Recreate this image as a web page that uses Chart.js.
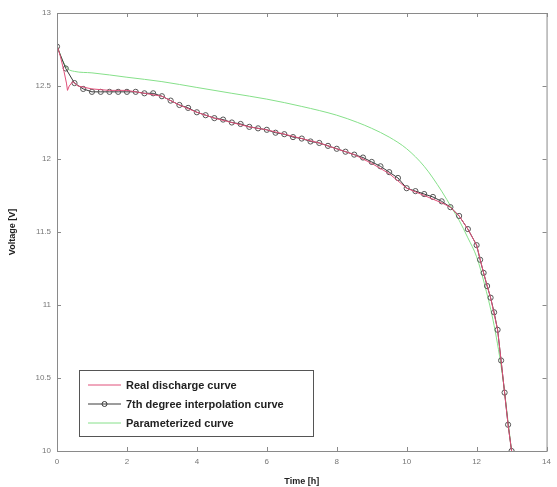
<!DOCTYPE html>
<html>
<head>
<meta charset="utf-8">
<script src="https://cdn.jsdelivr.net/npm/chart.js@4/dist/chart.umd.min.js"></script>
<style>
  html, body { margin: 0; padding: 0; background: #fff; }
  #wrap { width: 557px; height: 487px; }
</style>
</head>
<body>
<div id="wrap"><canvas id="dischargeChart" width="557" height="487"></canvas></div>
<script>
"use strict";

// Реальна крива розряду
const realTime = [0, 0.1, 0.2, 0.27, 0.3, 0.35, 0.45, 0.6, 0.8, 1, 1.5, 2, 2.5, 3, 3.5, 4, 4.5, 5, 5.5, 6,
    6.5, 7, 7.5, 8, 8.5, 9, 9.5, 10, 10.5, 11, 11.25, 11.5, 11.75, 12, 12.2, 12.4, 12.6, 12.7, 12.8, 12.9, 13.0];
const realVolt = [12.78, 12.7, 12.6, 12.52, 12.47, 12.5, 12.53, 12.5, 12.49, 12.48, 12.47, 12.47, 12.45, 12.43, 12.37, 12.32, 12.28, 12.25, 12.22, 12.2,
    12.17, 12.14, 12.11, 12.07, 12.03, 11.97, 11.9, 11.8, 11.75, 11.7, 11.67, 11.61, 11.52, 11.41, 11.22, 11.05, 10.83, 10.62, 10.4, 10.18, 10.0];

// Інтерполяція 7-го ступеня (з маркерами)
const interpTime = [0, 0.25, 0.5, 0.75, 1, 1.25, 1.5, 1.75, 2, 2.25, 2.5, 2.75, 3, 3.25, 3.5, 3.75, 4, 4.25, 4.5, 4.75,
    5, 5.25, 5.5, 5.75, 6, 6.25, 6.5, 6.75, 7, 7.25, 7.5, 7.75, 8, 8.25, 8.5, 8.75, 9, 9.25, 9.5, 9.75,
    10, 10.25, 10.5, 10.75, 11, 11.25, 11.5, 11.75, 12, 12.1, 12.2, 12.3, 12.4, 12.5, 12.6, 12.7, 12.8, 12.9, 13.0];
const interpVolt = [12.77, 12.62, 12.52, 12.48, 12.46, 12.46, 12.46, 12.46, 12.46, 12.46, 12.45, 12.45, 12.43, 12.4, 12.37, 12.35, 12.32, 12.3, 12.28, 12.27,
    12.25, 12.24, 12.22, 12.21, 12.2, 12.18, 12.17, 12.15, 12.14, 12.12, 12.11, 12.09, 12.07, 12.05, 12.03, 12.01, 11.98, 11.95, 11.91, 11.87,
    11.8, 11.78, 11.76, 11.74, 11.71, 11.67, 11.61, 11.52, 11.41, 11.31, 11.22, 11.13, 11.05, 10.95, 10.83, 10.62, 10.4, 10.18, 10.0];

// Параметризована крива
const paramTime = [0, 0.15, 0.3, 0.5, 1, 2, 3, 4, 5, 6, 7, 8, 8.6, 9, 9.5, 10, 10.5, 11, 11.3, 11.5, 11.75, 12, 12.25, 12.5, 12.75, 12.9, 13.0];
const paramVolt = [12.78, 12.68, 12.62, 12.6, 12.59, 12.56, 12.53, 12.49, 12.45, 12.41, 12.36, 12.3, 12.25, 12.21, 12.15, 12.07, 11.95, 11.78, 11.66, 11.58, 11.46, 11.33, 11.12, 10.86, 10.5, 10.2, 10.0];

const xTicks = [0, 2, 4, 6, 8, 10, 12, 14];
const yTicks = [10, 10.5, 11, 11.5, 12, 12.5, 13];

const legendLabels = ['Real discharge curve', '7th degree interpolation curve', 'Parameterized curve'];

function toPoints(xs, ys) {
    return xs.map((x, i) => ({ x: x, y: ys[i] }));
}

// Рамка та внутрішні риски як у MATLAB
const framePlugin = {
    id: 'frame',
    afterDraw(chart) {
        const { ctx, chartArea: a, scales } = chart;
        ctx.save();
        ctx.strokeStyle = '#8a8a8a';
        ctx.lineWidth = 1;
        ctx.strokeRect(a.left + 0.5, a.top + 0.5, a.right - a.left, a.bottom - a.top);
        ctx.beginPath();
        xTicks.forEach(v => {
            const px = Math.round(scales.x.getPixelForValue(v)) + 0.5;
            ctx.moveTo(px, a.bottom); ctx.lineTo(px, a.bottom - 4);
            ctx.moveTo(px, a.top); ctx.lineTo(px, a.top + 4);
        });
        yTicks.forEach(v => {
            const py = Math.round(scales.y.getPixelForValue(v)) + 0.5;
            ctx.moveTo(a.left, py); ctx.lineTo(a.left + 4, py);
            ctx.moveTo(a.right, py); ctx.lineTo(a.right - 4, py);
        });
        ctx.stroke();
        ctx.restore();
    }
};

// Легенда всередині області графіка
const innerLegendPlugin = {
    id: 'innerLegend',
    afterDraw(chart) {
        const { ctx, chartArea: a } = chart;
        const x0 = a.left + 22, y0 = a.bottom - 81, w = 234, h = 66;
        ctx.save();
        ctx.fillStyle = '#fff';
        ctx.fillRect(x0, y0, w, h);
        ctx.strokeStyle = '#555';
        ctx.lineWidth = 1;
        ctx.strokeRect(x0 + 0.5, y0 + 0.5, w, h);
        ctx.font = 'bold 11px "Liberation Sans", Arial, sans-serif';
        ctx.textBaseline = 'middle';
        chart.data.datasets.forEach((ds, i) => {
            const yy = y0 + 15 + i * 19;
            ctx.strokeStyle = ds.borderColor;
            ctx.lineWidth = 1;
            ctx.beginPath();
            ctx.moveTo(x0 + 9, yy);
            ctx.lineTo(x0 + 42, yy);
            ctx.stroke();
            if (ds.pointRadius > 0) {
                ctx.beginPath();
                ctx.arc(x0 + 25.5, yy, 2.5, 0, Math.PI * 2);
                ctx.stroke();
            }
            ctx.fillStyle = '#222';
            ctx.fillText(legendLabels[i], x0 + 47, yy + 1);
        });
        ctx.restore();
    }
};

new Chart(document.getElementById('dischargeChart'), {
    type: 'scatter',
    data: {
        datasets: [
            {
                label: legendLabels[0],
                data: toPoints(realTime, realVolt),
                showLine: true,
                borderColor: '#e0507a',
                borderWidth: 1,
                pointRadius: 0,
                tension: 0
            },
            {
                label: legendLabels[1],
                data: toPoints(interpTime, interpVolt),
                showLine: true,
                borderColor: '#3a3a3a',
                borderWidth: 1,
                pointRadius: 2.6,
                pointBorderWidth: 1,
                pointBackgroundColor: 'rgba(255,255,255,0)',
                pointBorderColor: '#555',
                tension: 0
            },
            {
                label: legendLabels[2],
                data: toPoints(paramTime, paramVolt),
                showLine: true,
                borderColor: '#86e08a',
                borderWidth: 1,
                pointRadius: 0,
                cubicInterpolationMode: 'monotone'
            }
        ]
    },
    options: {
        responsive: false,
        animation: false,
        layout: { padding: { top: 13, right: 8, left: 0, bottom: 0 } },
        scales: {
            x: {
                type: 'linear',
                min: 0,
                max: 14,
                afterBuildTicks(scale) { scale.ticks = xTicks.map(v => ({ value: v })); },
                afterFit(scale) { scale.height = 36; },
                grid: { display: false, drawTicks: false },
                border: { display: false },
                ticks: { color: '#777', font: { size: 8 }, padding: 6, maxRotation: 0 },
                title: {
                    display: true,
                    text: 'Time [h]',
                    color: '#222',
                    font: { size: 9, weight: 'bold' },
                    padding: { top: 0, bottom: 0 }
                }
            },
            y: {
                min: 10,
                max: 13,
                afterBuildTicks(scale) { scale.ticks = yTicks.map(v => ({ value: v })); },
                afterFit(scale) { scale.width = 57; },
                grid: { display: false, drawTicks: false },
                border: { display: false },
                ticks: {
                    color: '#777',
                    font: { size: 8 },
                    padding: 6,
                    callback: v => String(v)
                },
                title: {
                    display: true,
                    text: 'Voltage [V]',
                    color: '#222',
                    font: { size: 9, weight: 'bold' },
                    padding: { top: 7, bottom: 0 }
                }
            }
        },
        plugins: {
            legend: { display: false },
            tooltip: { enabled: false }
        }
    },
    plugins: [framePlugin, innerLegendPlugin]
});
</script>
</body>
</html>
